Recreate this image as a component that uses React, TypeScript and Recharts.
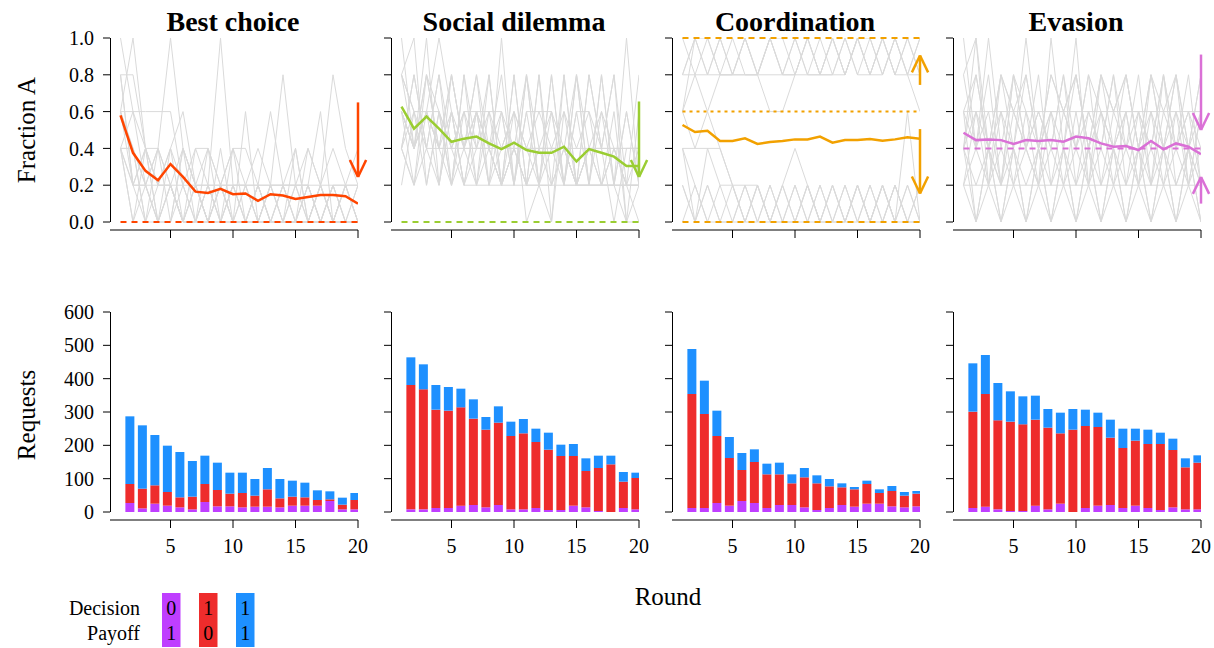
import React from 'react';
import { ComposedChart, Line, Bar, XAxis, YAxis, ReferenceLine } from 'recharts';

const FONT = 'Liberation Serif';

const ROUNDS = [1, 2, 3, 4, 5, 6, 7, 8, 9, 10, 11, 12, 13, 14, 15, 16, 17, 18, 19, 20];
const BAR_ROUNDS = [2, 3, 4, 5, 6, 7, 8, 9, 10, 11, 12, 13, 14, 15, 16, 17, 18, 19, 20];
const X_TICKS = [5, 10, 15, 20];
const FRACTION_TICKS = [0, 0.2, 0.4, 0.6, 0.8, 1.0];
const REQUEST_TICKS = [0, 100, 200, 300, 400, 500, 600];

const PANEL_TITLES = ['Best choice', 'Social dilemma', 'Coordination', 'Evasion'];
const LINE_COLORS = ['#FF4500', '#9ACD32', '#F2A100', '#DA70D6'];
const BAR_COLORS = { purple: '#BF3EFF', red: '#EE2C2C', blue: '#1E90FF' };

// Mean fraction of A per round
const bestChoiceMean = [0.58, 0.376, 0.278, 0.227, 0.315, 0.245, 0.165, 0.158, 0.18, 0.151, 0.155, 0.115, 0.151, 0.144, 0.125, 0.136, 0.147, 0.147, 0.14, 0.1];
const socialDilemmaMean = [0.627, 0.507, 0.573, 0.507, 0.436, 0.453, 0.464, 0.427, 0.396, 0.431, 0.391, 0.376, 0.376, 0.409, 0.329, 0.396, 0.376, 0.355, 0.304, 0.304];
const coordinationMean = [0.527, 0.489, 0.496, 0.44, 0.44, 0.455, 0.424, 0.435, 0.44, 0.449, 0.449, 0.464, 0.431, 0.445, 0.445, 0.451, 0.442, 0.449, 0.46, 0.453];
const evasionMean = [0.485, 0.445, 0.449, 0.445, 0.424, 0.445, 0.44, 0.445, 0.436, 0.464, 0.455, 0.427, 0.409, 0.413, 0.391, 0.44, 0.395, 0.427, 0.409, 0.369];

// Individual groups: number of A players (of 5) per round, one digit per round
const bestChoiceGroups = [
  '53212100101001001010',
  '35211010000010010000',
  '44212310100100001000',
  '33333121111011110111',
  '21221212121111121210',
  '31111111111111111111',
  '22125210000000000000',
  '32002001510010010100',
  '20201022022131201421',
  '41100201011214113012',
  '21021002103000021010',
  '20100210120100200001',
  '32101010100101000100',
  '23120101010010101001',
  '41201000201001010100',
  '22011011010100100010',
];
const socialDilemmaGroups = [
  '52514241514141414151',
  '45131414141404142403',
  '32353133313331332022',
  '43332222222222222222',
  '32322122121111111111',
  '23221212111112111111',
  '32432331232222121111',
  '32323222221221122211',
  '24241424141414142414',
  '43322232122122111101',
  '21424242414141414131',
  '21213111130103111300',
  '31313131313131313131',
  '42424232324232423222',
  '13131313121212121210',
  '24242323232323231212',
];
const coordinationGroups = [
  '54545445445445444544',
  '35544545454454545454',
  '44444444444444545443',
  '34344443345454545454',
  '45454545545454554545',
  '45454545454545454545',
  '22321101010101010101',
  '10221010121010101030',
  '21010101001010010101',
  '32211000100100101000',
  '01000110010001001010',
  '20100010001000100100',
  '10101010101010101010',
];
const evasionGroups = [
  '25143215251423142413',
  '45242524342434242324',
  '33333333333333333333',
  '11111111111111111111',
  '32524232423242324232',
  '21212121212121212121',
  '42314232413241324231',
  '13131313131313131313',
  '24232423242324232423',
  '30202020202020202020',
  '23214323324323314121',
  '12121212121212121212',
  '34243424342434243424',
  '10201020102010201020',
  '52413241324132413241',
  '20102010201020102010',
];

// Requests per round (rounds 2-20): decision/payoff = 0/1, 1/0, 1/1
const bestChoiceD0P1 = [27, 11, 25, 19, 14, 8, 30, 17, 17, 14, 16, 16, 14, 19, 19, 19, 33, 8, 8];
const bestChoiceD1P0 = [57, 59, 55, 41, 30, 38, 54, 49, 38, 43, 33, 52, 27, 27, 25, 17, 5, 14, 28];
const bestChoiceD1P1 = [203, 190, 151, 139, 136, 107, 85, 82, 63, 61, 50, 64, 58, 48, 44, 29, 24, 21, 21];

const socialDilemmaD0P1 = [8, 8, 12, 12, 19, 21, 14, 21, 8, 8, 12, 6, 6, 19, 14, 3, 0, 12, 8];
const socialDilemmaD1P0 = [373, 360, 295, 292, 295, 259, 233, 247, 220, 228, 198, 181, 162, 149, 109, 129, 143, 79, 94];
const socialDilemmaD1P1 = [83, 75, 74, 71, 56, 58, 38, 49, 43, 43, 40, 51, 34, 36, 38, 37, 26, 29, 16];

const coordinationD0P1 = [12, 12, 27, 19, 33, 27, 12, 21, 21, 14, 6, 12, 21, 16, 25, 25, 17, 14, 17];
const coordinationD1P0 = [342, 282, 201, 143, 93, 123, 101, 92, 65, 90, 80, 65, 53, 52, 59, 32, 46, 35, 38];
const coordinationD1P1 = [135, 100, 76, 63, 51, 38, 32, 35, 27, 28, 24, 22, 12, 7, 10, 11, 15, 11, 8];

const evasionD0P1 = [12, 16, 8, 3, 3, 19, 8, 25, 0, 12, 19, 21, 12, 19, 12, 6, 14, 8, 8];
const evasionD1P0 = [289, 338, 267, 268, 260, 258, 245, 211, 247, 246, 236, 202, 180, 195, 192, 198, 172, 126, 140];
const evasionD1P1 = [145, 117, 112, 91, 84, 72, 56, 62, 62, 49, 43, 54, 58, 36, 43, 34, 34, 27, 22];

// Equilibrium reference levels and arrows
const bestChoiceLevels = [0];
const socialDilemmaLevels = [0];
const coordinationLevels = [0, 1];
const coordinationUnstable = [0.6];
const evasionLevels = [0.4];
const bestChoiceArrows = [[0.65, 0.245]];
const socialDilemmaArrows = [[0.655, 0.245]];
const coordinationArrows = [[0.745, 0.905], [0.505, 0.155]];
const evasionArrows = [[0.91, 0.5], [0.1, 0.245]];

const LEGEND_DECISION = ['0', '1', '1'];
const LEGEND_PAYOFF = ['1', '0', '1'];

const MEANS = [bestChoiceMean, socialDilemmaMean, coordinationMean, evasionMean];
const GROUPS = [bestChoiceGroups, socialDilemmaGroups, coordinationGroups, evasionGroups];
const D0P1 = [bestChoiceD0P1, socialDilemmaD0P1, coordinationD0P1, evasionD0P1];
const D1P0 = [bestChoiceD1P0, socialDilemmaD1P0, coordinationD1P0, evasionD1P0];
const D1P1 = [bestChoiceD1P1, socialDilemmaD1P1, coordinationD1P1, evasionD1P1];
const LEVELS = [bestChoiceLevels, socialDilemmaLevels, coordinationLevels, evasionLevels];
const UNSTABLE = [[], [], coordinationUnstable, []];
const ARROWS = [bestChoiceArrows, socialDilemmaArrows, coordinationArrows, evasionArrows];

// Layout
const PANEL_STEP = 281;
const X_MIN = 0.16;
const X_MAX = 20;
const AXIS_X = 0.2; // y-axis line position (half-pixel inside the plot for a crisp line)
const BAR_SHIFT = 0.27;
const CHART_W = 400;
const PLOT_LEFT = 110;
const PLOT_W = 248;

function YTick(props: any) {
  const { x, y, payload, decimals } = props;
  const v = payload.value as number;
  return (
    <text x={x} y={y} dy="0.355em" textAnchor="end" fill="#000" fontFamily={FONT} fontSize={20} style={{ fontFamily: FONT }}>
      {decimals ? v.toFixed(decimals) : String(v)}
    </text>
  );
}

function XTick(props: any) {
  const { x, y, payload } = props;
  return (
    <text x={x} y={y} dy="0.71em" textAnchor="middle" fill="#000" fontFamily={FONT} fontSize={20} style={{ fontFamily: FONT }}>
      {String(payload.value)}
    </text>
  );
}

function NoLabel() {
  return <g />;
}

function TopPanel({ idx }: { idx: number }) {
  const mean = MEANS[idx];
  const groups = GROUPS[idx];
  const color = LINE_COLORS[idx];
  const data = ROUNDS.map((r, i) => {
    const row: any = { round: r, mean: mean[i] };
    groups.forEach((g, j) => {
      row['g' + j] = Number(g[i]) / 5;
    });
    return row;
  });
  const yLow = -8 / 184;
  return (
    <div style={{ position: 'absolute', left: idx * PANEL_STEP, top: 0 }}>
      <ComposedChart
        width={CHART_W}
        height={250}
        data={data}
        style={{ fontFamily: FONT }}
        margin={{ top: 38, right: CHART_W - PLOT_LEFT - PLOT_W, bottom: 0, left: PLOT_LEFT - 50 }}
      >
        <XAxis
          type="number"
          dataKey="round"
          domain={[X_MIN, X_MAX]}
          ticks={X_TICKS}
          allowDataOverflow
          height={20}
          tick={<NoLabel />}
          tickSize={8}
          axisLine={{ stroke: '#000' }}
          tickLine={{ stroke: '#000' }}
        />
        <YAxis
          type="number"
          domain={[yLow, 1]}
          ticks={FRACTION_TICKS}
          allowDataOverflow
          width={50}
          axisLine={false}
          tickLine={{ stroke: '#000' }}
          tickSize={7}
          tickMargin={9}
          tick={idx === 0 ? <YTick decimals={1} /> : <NoLabel />}
        />
        <ReferenceLine segment={[{ x: AXIS_X, y: 0 }, { x: AXIS_X, y: 1 }]} stroke="#000" ifOverflow="visible" />
        {groups.map((_, j) => (
          <Line
            key={'g' + j}
            dataKey={'g' + j}
            stroke="#DADADA"
            strokeWidth={1}
            dot={false}
            isAnimationActive={false}
          />
        ))}
        {LEVELS[idx].map((lv, j) => (
          <ReferenceLine
            key={'lv' + j}
            segment={[{ x: 1, y: lv }, { x: 20, y: lv }]}
            stroke={color}
            strokeWidth={2}
            strokeDasharray="6 5"
            ifOverflow="visible"
          />
        ))}
        {UNSTABLE[idx].map((lv, j) => (
          <ReferenceLine
            key={'un' + j}
            segment={[{ x: 1, y: lv }, { x: 20, y: lv }]}
            stroke={color}
            strokeWidth={2}
            strokeDasharray="3 4"
            ifOverflow="visible"
          />
        ))}
        <Line dataKey="mean" stroke={color} strokeWidth={2.5} dot={false} isAnimationActive={false} />
        {ARROWS[idx].map(([from, to], j) => {
          const dir = to > from ? -1 : 1;
          const wingY = to + dir * 0.092;
          return (
            <React.Fragment key={'ar' + j}>
              <ReferenceLine segment={[{ x: 20, y: from }, { x: 20, y: to }]} stroke={color} strokeWidth={2.5} ifOverflow="visible" />
              <ReferenceLine segment={[{ x: 19.35, y: wingY }, { x: 20, y: to }]} stroke={color} strokeWidth={2.5} ifOverflow="visible" />
              <ReferenceLine segment={[{ x: 20.65, y: wingY }, { x: 20, y: to }]} stroke={color} strokeWidth={2.5} ifOverflow="visible" />
            </React.Fragment>
          );
        })}
      </ComposedChart>
    </div>
  );
}

function BottomPanel({ idx }: { idx: number }) {
  const data = BAR_ROUNDS.map((r, i) => ({
    round: r,
    d0p1: D0P1[idx][i],
    d1p0: D1P0[idx][i],
    d1p1: D1P1[idx][i],
  }));
  return (
    <div style={{ position: 'absolute', left: idx * PANEL_STEP, top: 280 }}>
      <ComposedChart
        width={CHART_W}
        height={280}
        data={data}
        style={{ fontFamily: FONT }}
        margin={{ top: 32, right: CHART_W - PLOT_LEFT - PLOT_W, bottom: 0, left: PLOT_LEFT - 50 }}
      >
        <XAxis
          type="number"
          dataKey="round"
          domain={[X_MIN, X_MAX]}
          ticks={X_TICKS}
          allowDataOverflow
          height={40}
          tickSize={8}
          tickMargin={11}
          tick={<XTick />}
          axisLine={{ stroke: '#000' }}
          tickLine={{ stroke: '#000' }}
        />
        <XAxis
          xAxisId="bars"
          type="number"
          dataKey="round"
          domain={[X_MIN + BAR_SHIFT, X_MAX + BAR_SHIFT]}
          allowDataOverflow
          hide
        />
        <YAxis
          type="number"
          domain={[-24, 600]}
          ticks={REQUEST_TICKS}
          allowDataOverflow
          width={50}
          axisLine={false}
          tickLine={{ stroke: '#000' }}
          tickSize={7}
          tickMargin={9}
          tick={idx === 0 ? <YTick decimals={0} /> : <NoLabel />}
        />
        <ReferenceLine segment={[{ x: AXIS_X, y: 0 }, { x: AXIS_X, y: 600 }]} stroke="#000" ifOverflow="visible" />
        <Bar xAxisId="bars" dataKey="d0p1" stackId="s" fill={BAR_COLORS.purple} barSize={9} isAnimationActive={false} />
        <Bar xAxisId="bars" dataKey="d1p0" stackId="s" fill={BAR_COLORS.red} barSize={9} isAnimationActive={false} />
        <Bar xAxisId="bars" dataKey="d1p1" stackId="s" fill={BAR_COLORS.blue} barSize={9} isAnimationActive={false} />
      </ComposedChart>
    </div>
  );
}

function Overlay() {
  const legendColors = [BAR_COLORS.purple, BAR_COLORS.red, BAR_COLORS.blue];
  return (
    <svg width={1214} height={648} style={{ position: 'absolute', left: 0, top: 0, pointerEvents: 'none' }} fontFamily={FONT}>
      {PANEL_TITLES.map((t, k) => (
        <text key={t} x={233 + k * PANEL_STEP} y={31} textAnchor="middle" fontSize={28} fontWeight="bold" fill="#000">
          {t}
        </text>
      ))}
      <text transform="translate(35,130) rotate(-90)" textAnchor="middle" fontSize={25} fill="#000">Fraction A</text>
      <text transform="translate(35,415) rotate(-90)" textAnchor="middle" fontSize={25} fill="#000">Requests</text>
      <text x={668} y={605} textAnchor="middle" fontSize={25} fill="#000">Round</text>
      <text x={140} y={615} textAnchor="end" fontSize={20} fill="#000">Decision</text>
      <text x={140} y={640} textAnchor="end" fontSize={20} fill="#000">Payoff</text>
      {legendColors.map((c, i) => (
        <g key={c}>
          <rect x={162 + i * 37} y={593} width={18.5} height={54} fill={c} />
          <text x={171.2 + i * 37} y={615} textAnchor="middle" fontSize={20} fill="#000">{LEGEND_DECISION[i]}</text>
          <text x={171.2 + i * 37} y={640} textAnchor="middle" fontSize={20} fill="#000">{LEGEND_PAYOFF[i]}</text>
        </g>
      ))}
    </svg>
  );
}

export default function App() {
  return (
    <div style={{ position: 'absolute', left: 0, top: 0, width: 1214, height: 648, background: '#fff', overflow: 'hidden', fontFamily: FONT }}>
      {[0, 1, 2, 3].map((k) => (
        <TopPanel key={'t' + k} idx={k} />
      ))}
      {[0, 1, 2, 3].map((k) => (
        <BottomPanel key={'b' + k} idx={k} />
      ))}
      <Overlay />
    </div>
  );
}
